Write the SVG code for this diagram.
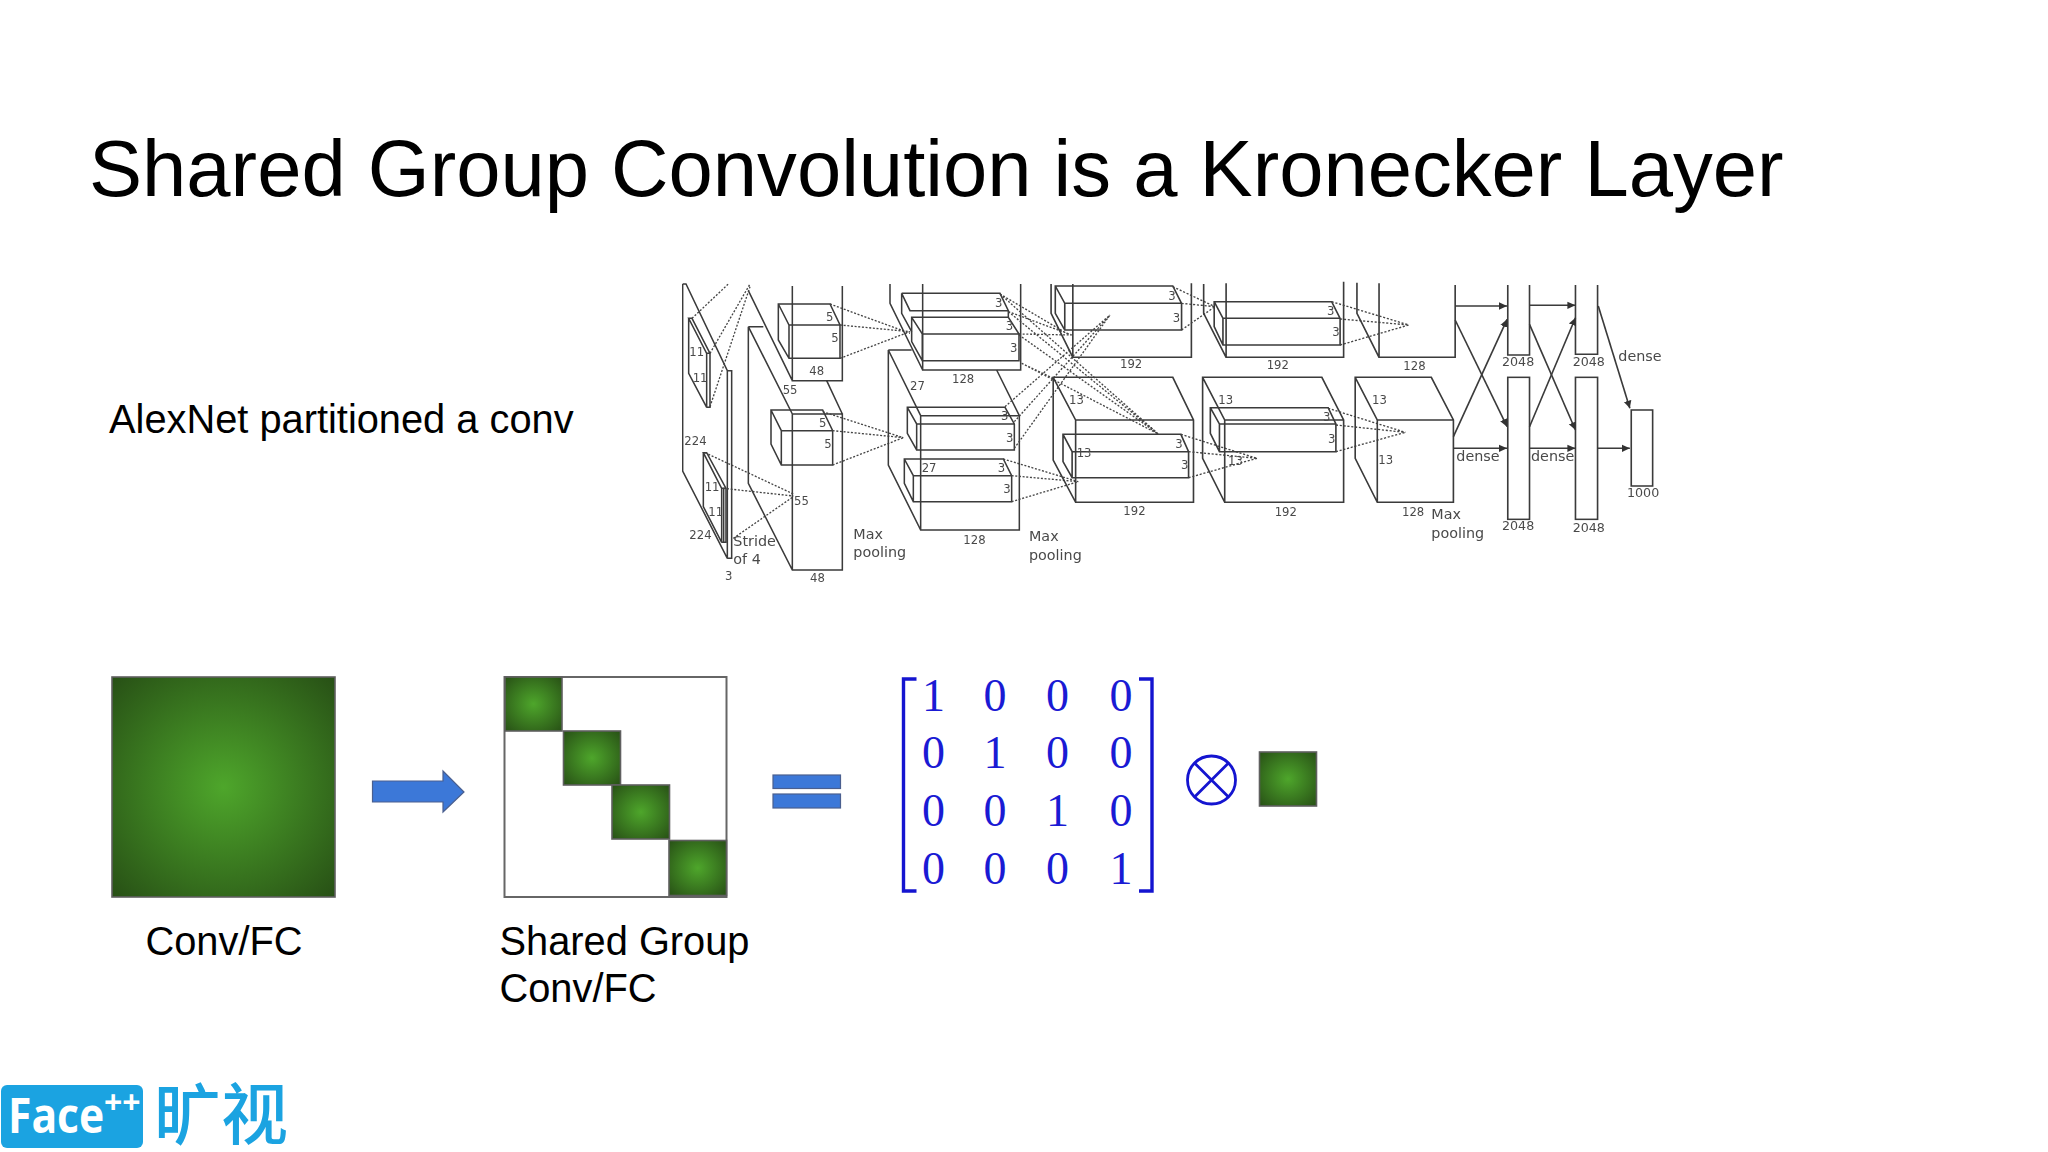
<svg xmlns="http://www.w3.org/2000/svg" width="2048" height="1152" viewBox="0 0 2048 1152">
<style>
.sans{font-family:'Liberation Sans',Arial,sans-serif;fill:#000}
.t40{font-size:39.8px}
.title{font-size:79.6px}
.s{fill:none;stroke:#3a3a3a;stroke-width:4.6;stroke-linejoin:miter}
.d{fill:none;stroke:#444;stroke-width:4;stroke-dasharray:6 5}
.a{fill:none;stroke:#3a3a3a;stroke-width:4.6;marker-end:url(#ah)}
.n{font-family:'DejaVu Sans',sans-serif;font-size:35px;fill:#4a4a4a}
.w{font-family:'DejaVu Sans',sans-serif;font-size:38px;fill:#4a4a4a}
.l{font-family:'DejaVu Sans',sans-serif;font-size:43px;fill:#4a4a4a}
.m{font-family:'Liberation Serif',serif;font-size:46px;fill:#1a1ad4;text-anchor:middle}
.b{fill:none;stroke:#1414d0;stroke-width:3.4}
.g{stroke:#5f5f5f;stroke-width:1.6}
.bl{fill:#3c78d8;stroke:#4a5f8f;stroke-width:1.2}
.lg{fill:#1ba3e1}
</style>
<defs>
<radialGradient id="gr" cx="0.5" cy="0.5" r="0.71"><stop offset="0" stop-color="#4ea62b"/><stop offset="1" stop-color="#274f15"/></radialGradient>
<marker id="ah" markerWidth="6" markerHeight="6" refX="5" refY="3" orient="auto" markerUnits="strokeWidth"><path d="M0,0.6 L5,3 L0,5.4 Z" fill="#333"/></marker>
<filter id="soft" x="0" y="0" width="1" height="1"><feGaussianBlur stdDeviation="0.45"/></filter>
</defs>
<rect width="2048" height="1152" fill="#fff"/>
<text id="title" class="sans title" x="89" y="196">Shared Group Convolution is a Kronecker Layer</text>
<text id="alexnet-label" class="sans t40" x="109" y="433">AlexNet partitioned a conv</text>

<g id="alexnet" filter="url(#soft)">
<g transform="translate(670,270) scale(0.33333)">
<g id="alex-left">
<path class="s" d="M38,42V603L172,865V302L48,42H38M172,302H185V865H172"/>
<path class="s" d="M56,145V310L110,412V250L56,145H66L120,250V412H110M110,250H120"/>
<path class="s" d="M100,548V710L155,817V655L100,548H110L168,655V817H155M155,655H168"/>
<path class="s" d="M161,655V817"/>
<path class="s" d="M235,62L367,332M367,48V332H517V48"/>
<path class="s" d="M235,170V640L367,900H517V432H367V900M235,170H280M235,170L367,432M470,332L517,432"/>
<path class="s" d="M325,102H480L510,165V265H357L325,210ZM325,102L357,165H510M357,165V265"/>
<path class="s" d="M303,420H458L488,482V585H334L303,522ZM303,420L334,482H488M334,482V585"/>
<path class="d" d="M66,145L175,42M120,250L240,42M120,410L240,50M105,548L370,672M160,655L370,678M190,805L370,680M480,102L720,190M510,165L720,185M510,265L720,185M458,425L700,503M488,482L700,503M488,585L700,503"/>
</g>
<g id="alex-conv2">
<path class="s" d="M660,42V100L758,300M758,42V300H1052V42"/>
<path class="s" d="M655,240V585L752,780H1048V437H752V780M655,240H725M655,240L752,437M980,300L1048,437"/>
<path class="s" d="M695,70H990L1015,122H720L695,70V130L725,185M1015,122V142"/>
<path class="s" d="M725,142H1015L1047,192V272H757L725,215ZM725,142L757,192H1047M757,192V272"/>
<path class="s" d="M712,412H1005L1033,462V540H740L712,490ZM712,412L740,462H1033M740,462V540"/>
<path class="s" d="M703,567H1000L1025,617V695H730L703,640ZM703,567L730,617H1025M730,617V695"/>
<path class="d" d="M990,72L1190,190M1015,125L1205,195M1047,192L1205,195M1055,280L1150,325M990,72L1465,492M1015,125L1465,492M1047,195L1465,492M1055,280L1465,492M1005,410L1320,135M1033,455L1320,135M1033,535L1320,135M1000,567L1225,635M1025,617L1225,635M1025,695L1225,635"/>
</g>
<g id="alex-rest" transform="translate(1440,0) scale(1.0523,1)">
<g id="alex-conv3">
<path class="s" d="M-282,42V130L-220,262M-220,42V262H118V40"/>
<path class="s" d="M-270,48H65L90,100V180H-243L-270,130ZM-270,48L-243,100H90M-243,100V180"/>
<path class="s" d="M-276,322H65L124,450V697H-212L-276,570ZM-276,322L-212,450H124M-212,450V697"/>
<path class="s" d="M-248,493H88L110,545V623H-222L-248,575ZM-248,493L-222,545H110M-222,545V623"/>
<path class="d" d="M88,493L305,565M110,545L305,565M110,623L305,565M65,50L185,110M90,100L185,110M90,180L185,110"/>
</g>
<g id="alex-conv4">
<path class="s" d="M153,42V130L217,262M217,40V262H552V35"/>
<path class="s" d="M183,95H518L542,145V225H208L183,170ZM183,95L208,145H542M208,145V225"/>
<path class="s" d="M150,322H490L552,450V697H213L150,565ZM150,322L213,450H552M213,450V697"/>
<path class="s" d="M172,413H508L530,462V545H198L172,490ZM172,413L198,462H530M198,462V545"/>
<path class="d" d="M518,95L738,165M542,147L738,165M542,225L738,165M508,415L728,487M530,465L728,487M530,545L728,487"/>
</g>
<g id="alex-conv5">
<path class="s" d="M590,38V130L653,262M653,40V262H870V45"/>
<path class="s" d="M585,322H802L865,450V697H648L585,565ZM585,322L648,450H865M648,450V697"/>
</g>
<g id="alex-fc">
<path class="s" d="M1020,45V255H1082V45M1213,45V253H1276V45"/>
<rect class="s" x="1020" y="322" width="62" height="426"/>
<rect class="s" x="1213" y="322" width="63" height="426"/>
<rect class="s" x="1372" y="420" width="61" height="228"/>
</g>
<g id="alex-arrows">
<path class="a" d="M870,108L1018,108"/>
<path class="a" d="M1082,106L1213,106"/>
<path class="a" d="M870,150L1018,470"/>
<path class="a" d="M865,500L1018,148"/>
<path class="a" d="M1082,163L1213,480"/>
<path class="a" d="M1082,470L1213,143"/>
<path class="a" d="M865,535L1018,535"/>
<path class="a" d="M1082,535L1213,535"/>
<path class="a" d="M1276,535L1368,535"/>
<path class="a" d="M1278,108L1368,415"/>
</g>
</g>
<g id="alex-labels">
<text class="n" x="58" y="259">11</text><text class="n" x="68" y="336">11</text><text class="n" x="43" y="524">224</text><text class="n" x="58" y="808">224</text><text class="n" x="165" y="931">3</text><text class="n" x="104" y="662">11</text><text class="n" x="115" y="738">11</text>
<text class="l" x="190" y="827">Stride</text><text class="l" x="190" y="882">of 4</text>
<text class="n" x="338" y="371">55</text><text class="n" x="372" y="704">55</text><text class="n" x="418" y="315">48</text><text class="n" x="420" y="936">48</text>
<text class="n" x="468" y="153">5</text><text class="n" x="484" y="217">5</text><text class="n" x="447" y="472">5</text><text class="n" x="463" y="535">5</text>
<text class="l" x="550" y="808">Max</text><text class="l" x="550" y="862">pooling</text>
<text class="n" x="975" y="110">3</text><text class="n" x="1007" y="180">3</text><text class="n" x="1020" y="245">3</text><text class="n" x="846" y="339">128</text><text class="n" x="720" y="359">27</text>
<text class="n" x="993" y="451">3</text><text class="n" x="1008" y="515">3</text><text class="n" x="755" y="606">27</text><text class="n" x="983" y="606">3</text><text class="n" x="1000" y="670">3</text><text class="n" x="880" y="822">128</text>
<text class="l" x="1077" y="813">Max</text><text class="l" x="1077" y="869">pooling</text>
<text class="n" x="1495" y="90">3</text><text class="n" x="1508" y="155">3</text><text class="n" x="1350" y="294">192</text><text class="n" x="1197" y="401">13</text><text class="n" x="1360" y="734">192</text><text class="n" x="1220" y="561">13</text><text class="n" x="1516" y="533">3</text><text class="n" x="1533" y="597">3</text>
<text class="n" x="1971" y="135">3</text><text class="n" x="1987" y="198">3</text><text class="n" x="1790" y="298">192</text><text class="n" x="1645" y="403">13</text><text class="n" x="1959" y="453">3</text><text class="n" x="1974" y="518">3</text><text class="n" x="1674" y="585">13</text><text class="n" x="1814" y="738">192</text>
<text class="n" x="2200" y="299">128</text><text class="n" x="2106" y="402">13</text><text class="n" x="2125" y="581">13</text><text class="n" x="2196" y="738">128</text>
<text class="l" x="2284" y="748">Max</text><text class="l" x="2284" y="803">pooling</text>
<text class="w" x="2496" y="288">2048</text><text class="w" x="2708" y="288">2048</text><text class="w" x="2496" y="781">2048</text><text class="w" x="2708" y="786">2048</text><text class="w" x="2871" y="682">1000</text>
<text class="l" x="2845" y="274">dense</text><text class="l" x="2359" y="574">dense</text><text class="l" x="2583" y="574">dense</text>
</g>
</g>
</g>

<g id="conv-fc">
<rect class="g" x="112" y="677" width="223" height="220" fill="url(#gr)"/>
<text class="sans t40" x="145.5" y="954.5">Conv/FC</text>
</g>
<polygon id="arrow" class="bl" points="372.5,781 443,781 443,771 464,792 443,812 443,802 372.5,802"/>
<g id="shared-group">
<rect x="504.5" y="677" width="222" height="220" fill="#fff" stroke="#666" stroke-width="2"/>
<rect class="g" x="505" y="677" width="57" height="54" fill="url(#gr)"/>
<rect class="g" x="563.5" y="731" width="57" height="54" fill="url(#gr)"/>
<rect class="g" x="612" y="785" width="57.5" height="54" fill="url(#gr)"/>
<rect class="g" x="669" y="840.5" width="57.5" height="55" fill="url(#gr)"/>
<text class="sans t40" x="499.5" y="954.5">Shared Group</text>
<text class="sans t40" x="499.5" y="1001.5">Conv/FC</text>
</g>
<g id="equals">
<rect class="bl" x="773" y="775" width="67.5" height="13.5"/>
<rect class="bl" x="773" y="794" width="67.5" height="14"/>
</g>
<g id="matrix">
<path class="b" d="M916.5,679H903.5V891H916.5M1139,679H1152V891H1139"/>
<text class="m" x="933.5" y="711">1</text><text class="m" x="995" y="711">0</text><text class="m" x="1057.5" y="711">0</text><text class="m" x="1121" y="711">0</text>
<text class="m" x="933.5" y="768">0</text><text class="m" x="995" y="768">1</text><text class="m" x="1057.5" y="768">0</text><text class="m" x="1121" y="768">0</text>
<text class="m" x="933.5" y="826">0</text><text class="m" x="995" y="826">0</text><text class="m" x="1057.5" y="826">1</text><text class="m" x="1121" y="826">0</text>
<text class="m" x="933.5" y="884">0</text><text class="m" x="995" y="884">0</text><text class="m" x="1057.5" y="884">0</text><text class="m" x="1121" y="884">1</text>
</g>
<g id="kronecker">
<circle cx="1211.5" cy="780" r="24" fill="none" stroke="#1414d0" stroke-width="2.8"/>
<path d="M1194.5,763L1228.5,797M1228.5,763L1194.5,797" fill="none" stroke="#1414d0" stroke-width="2.8"/>
</g>
<rect id="small-square" class="g" x="1259.5" y="752" width="57" height="54" fill="url(#gr)"/>
<g id="logo">
<rect class="lg" x="1" y="1085" width="142" height="63" rx="6"/>
<text transform="translate(8,1133) scale(0.87,1)" font-family="'Open Sans','Noto Sans',sans-serif" font-weight="700" font-size="49" fill="#fff">Face</text>
<text x="104" y="1114" font-family="'Open Sans','Noto Sans',sans-serif" font-weight="700" font-size="32" fill="#fff">++</text>
<text class="lg" x="154" y="1139" font-family="'Liberation Sans','Noto Sans CJK SC',sans-serif" font-weight="500" font-size="67">旷视</text>
</g>
</svg>
